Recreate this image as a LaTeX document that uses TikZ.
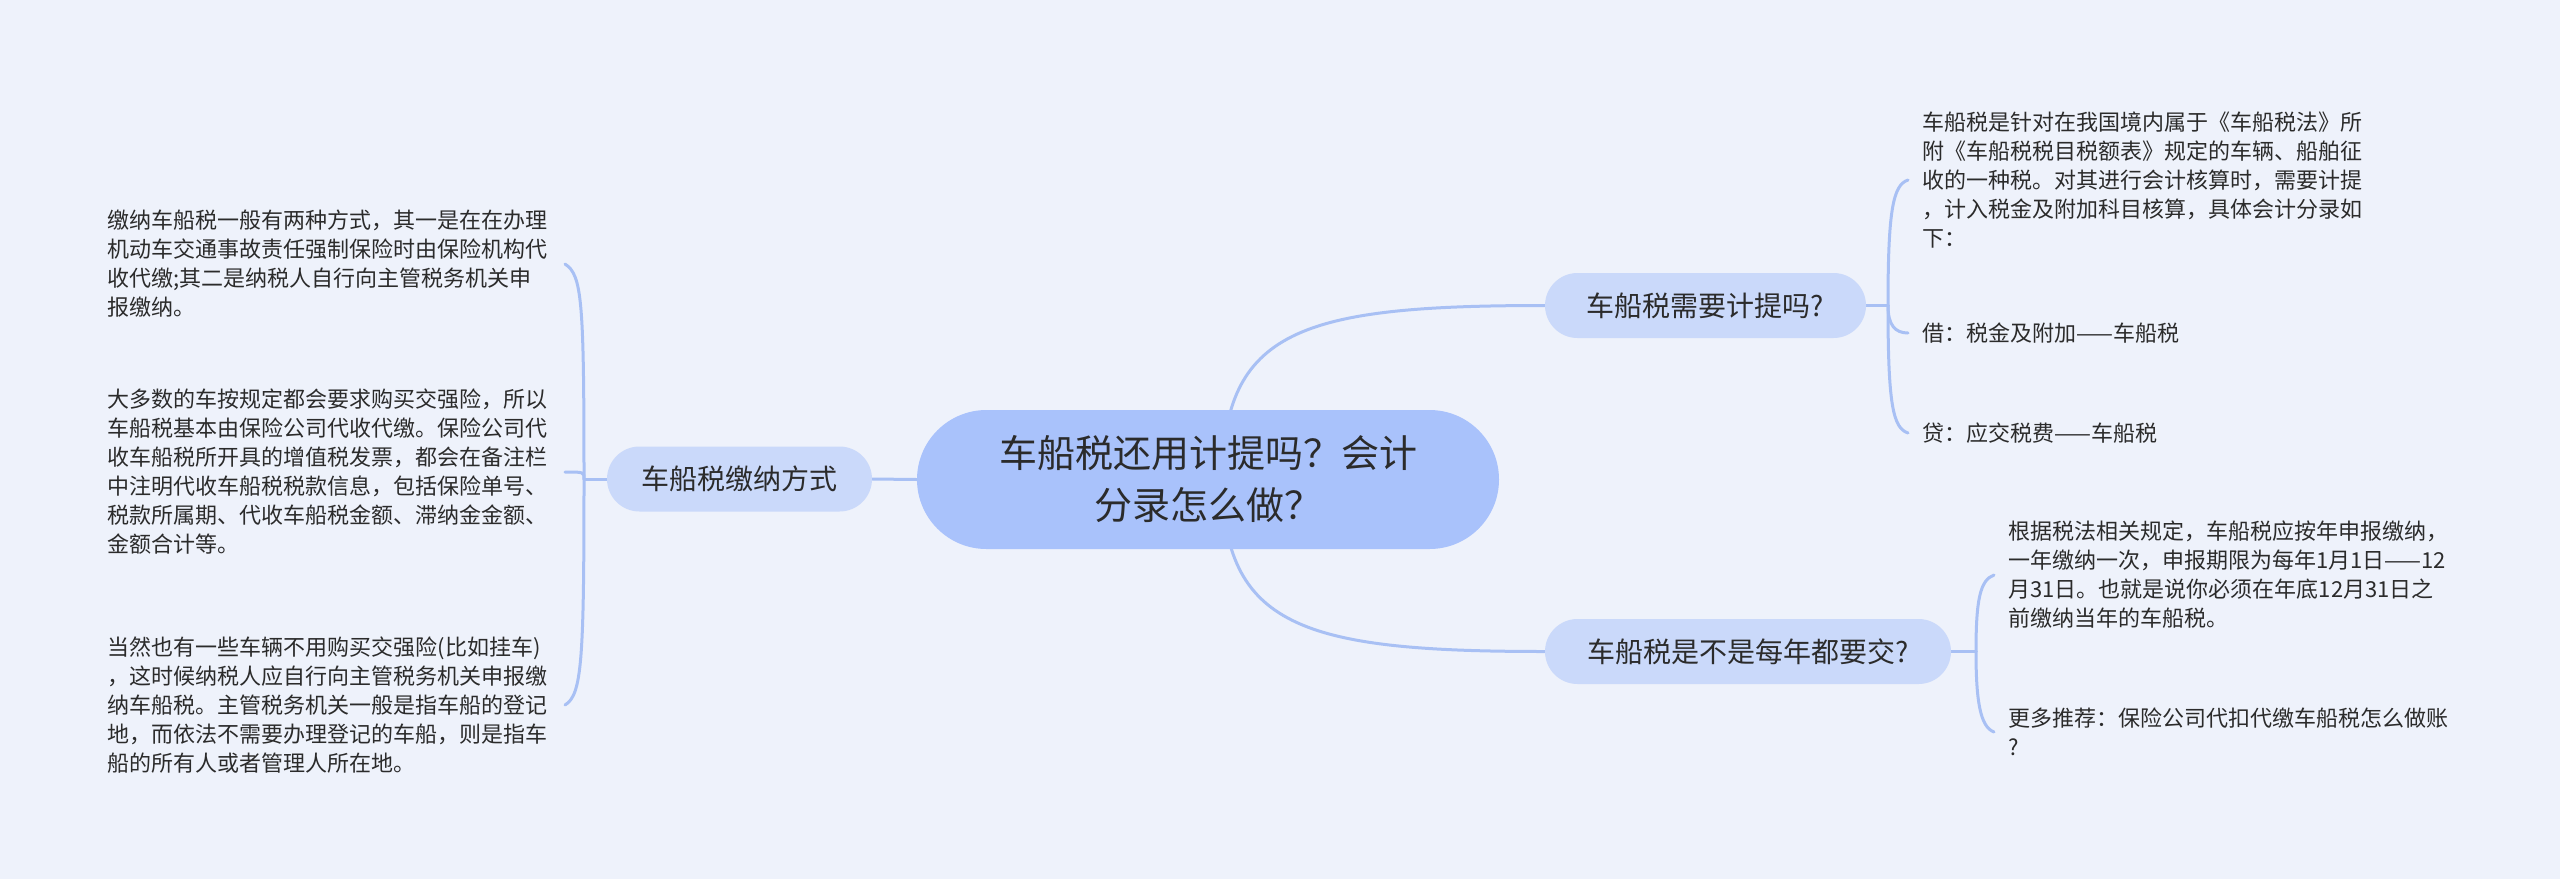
\documentclass[tikz,border=0pt]{standalone}
\usepackage{fontspec}
\setmainfont{Noto Sans CJK SC}
\usetikzlibrary{backgrounds}
\definecolor{bgc}{HTML}{EEF2FB}
\definecolor{rootc}{HTML}{A9C2FB}
\definecolor{subc}{HTML}{CAD9FA}
\definecolor{linec}{HTML}{A8C0F4}
\definecolor{txtc}{HTML}{2B2B2B}
\tikzset{
  rootbox/.style={fill=rootc, rounded corners=34.75pt, minimum width=291pt, minimum height=69.5pt,
    align=center, text=txtc, font=\fontsize{19}{26}\selectfont, inner sep=0pt},
  subbox/.style={fill=subc, rounded corners=16.25pt, minimum height=32.5pt,
    text=txtc, font=\fontsize{14}{17}\selectfont, inner sep=0pt},
  leafL/.style={align=left, text width=220pt, inner xsep=8.5pt, inner ysep=0pt, anchor=east,
    text=txtc, font=\fontsize{11}{14.5}\selectfont},
  leafR/.style={align=left, inner xsep=7pt, inner ysep=0pt, anchor=west,
    text=txtc, font=\fontsize{11}{14.5}\selectfont},
  conn/.style={draw=linec, line width=1.5pt, line cap=round}
}
\begin{document}
\begin{tikzpicture}[x=0.5pt, y=-0.5pt]
\useasboundingbox (0,0) rectangle (2560,879);
\begin{scope}[on background layer]
\fill[bgc] (0,0) rectangle (2560,879);
\end{scope}

% main nodes
\node[rootbox] (root) at (1208,479.5) {车船税还用计提吗？会计\\分录怎么做？};
\node[subbox, minimum width=160.5pt] (s1) at (1705.5,305.5) {车船税需要计提吗?};
\node[subbox, minimum width=203pt] (s2) at (1748,651.5) {车船税是不是每年都要交?};
\node[subbox, minimum width=132.5pt] (s3) at (739.5,479) {车船税缴纳方式};

% left leaves
\node[leafL] (l1) at (565,264) {缴纳车船税一般有两种方式，其一是在在办理\\机动车交通事故责任强制保险时由保险机构代\\收代缴;其二是纳税人自行向主管税务机关申\\报缴纳。};
\node[leafL] (l2) at (565,472) {大多数的车按规定都会要求购买交强险，所以\\车船税基本由保险公司代收代缴。保险公司代\\收车船税所开具的增值税发票，都会在备注栏\\中注明代收车船税税款信息，包括保险单号、\\税款所属期、代收车船税金额、滞纳金金额、\\金额合计等。};
\node[leafL] (l3) at (565,705) {当然也有一些车辆不用购买交强险(比如挂车)\\，这时候纳税人应自行向主管税务机关申报缴\\纳车船税。主管税务机关一般是指车船的登记\\地，而依法不需要办理登记的车船，则是指车\\船的所有人或者管理人所在地。};

% right leaves
\node[leafR] (r1) at (1908,180) {车船税是针对在我国境内属于《车船税法》所\\附《车船税税目税额表》规定的车辆、船舶征\\收的一种税。对其进行会计核算时，需要计提\\，计入税金及附加科目核算，具体会计分录如\\下：};
\node[leafR] (r2) at (1908,333) {借：税金及附加——车船税};
\node[leafR] (r3) at (1908,433) {贷：应交税费——车船税};
\node[leafR] (r4) at (1994,575) {根据税法相关规定，车船税应按年申报缴纳，\\一年缴纳一次，申报期限为每年1月1日——12\\月31日。也就是说你必须在年底12月31日之\\前缴纳当年的车船税。};
\node[leafR] (r5) at (1994,732) {更多推荐：保险公司代扣代缴车船税怎么做账\\?};

\coordinate (jL) at (584,479);
\coordinate (jR1) at (1888,305.5);
\coordinate (jR2) at (1976,651.5);

\begin{scope}[on background layer]
% root to main branches
\draw[conn] (1222,479) .. controls (1224,330) and (1300,305.5) .. (s1.west);
\draw[conn] (1222,479) .. controls (1224,626) and (1300,651.5) .. (s2.west);
\draw[conn] (root.west) -- (s3.east);
% left bracket
\draw[conn] (s3.west) -- (jL);
\draw[conn] (jL) .. controls (584,300) and (582,275) .. (l1.east);
\draw[conn] (jL) .. controls (584,472) .. (l2.east);
\draw[conn] (jL) .. controls (584,660) and (582,695) .. (l3.east);
% right top bracket
\draw[conn] (s1.east) -- (jR1);
\draw[conn] (jR1) .. controls (1888,210) and (1893,185) .. (r1.west);
\draw[conn] (jR1) .. controls (1888,325) and (1895,333) .. (r2.west);
\draw[conn] (jR1) .. controls (1888,405) and (1893,428) .. (r3.west);
% right bottom bracket
\draw[conn] (s2.east) -- (jR2);
\draw[conn] (jR2) .. controls (1976,600) and (1980,580) .. (r4.west);
\draw[conn] (jR2) .. controls (1976,700) and (1980,727) .. (r5.west);
\end{scope}
\end{tikzpicture}
\end{document}
